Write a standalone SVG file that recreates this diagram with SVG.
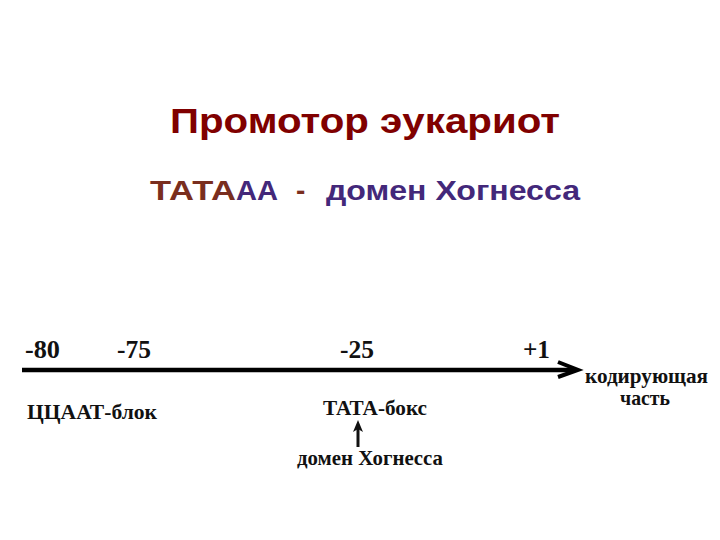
<svg xmlns="http://www.w3.org/2000/svg" width="720" height="540" viewBox="0 0 720 540">
<style>
.title{font-family:"Liberation Sans",Arial,sans-serif;font-weight:bold;font-size:35px;fill:#800000}
.sub{font-family:"Liberation Sans",Arial,sans-serif;font-weight:bold;font-size:28px}
.br{fill:#7a2e1e}
.pu{fill:#43287a}
.lbl{font-family:"Liberation Serif","Times New Roman",serif;font-weight:bold;fill:#111}
.num{font-size:26px}
.small{font-size:21px}
</style>
<rect width="720" height="540" fill="#fff"/>
<g id="title">
<text class="title" x="170" y="133" textLength="390" lengthAdjust="spacingAndGlyphs">Промотор эукариот</text>
</g>
<g id="subtitle">
<text class="sub" y="200"><tspan class="br" x="150" textLength="86" lengthAdjust="spacingAndGlyphs">ТАТА</tspan><tspan class="pu" x="236" textLength="42" lengthAdjust="spacingAndGlyphs">АА</tspan><tspan class="br" x="296">-</tspan><tspan class="pu" x="326" textLength="254" lengthAdjust="spacingAndGlyphs">домен Хогнесса</tspan></text>
</g>
<g id="connectors">
<line x1="22" y1="370" x2="574" y2="370" stroke="#000" stroke-width="4.5"/>
<polyline points="558,362 578,370 558,377" fill="none" stroke="#000" stroke-width="4" stroke-linejoin="miter"/>
<line x1="358" y1="447" x2="358" y2="428" stroke="#111" stroke-width="3"/>
<polygon points="358,420 363,432 358,429 353,432" fill="#111"/>
</g>
<g id="n80"><text class="lbl num" x="25" y="358" textLength="35" lengthAdjust="spacingAndGlyphs">-80</text></g>
<g id="n75"><text class="lbl num" x="117" y="358" textLength="34" lengthAdjust="spacingAndGlyphs">-75</text></g>
<g id="n25"><text class="lbl num" x="340" y="358" textLength="34" lengthAdjust="spacingAndGlyphs">-25</text></g>
<g id="p1"><text class="lbl num" x="523" y="358" textLength="27" lengthAdjust="spacingAndGlyphs">+1</text></g>
<g id="ccaat"><text class="lbl small" x="27" y="419" textLength="130" lengthAdjust="spacingAndGlyphs">ЦЦААТ-блок</text></g>
<g id="tata"><text class="lbl small" x="323" y="415" textLength="104" lengthAdjust="spacingAndGlyphs">ТАТА-бокс</text></g>
<g id="hogness"><text class="lbl small" x="297" y="465" textLength="146" lengthAdjust="spacingAndGlyphs">домен Хогнесса</text></g>
<g id="coding">
<text class="lbl small" x="585" y="383" textLength="123" lengthAdjust="spacingAndGlyphs">кодирующая</text>
<text class="lbl small" x="620" y="405" textLength="50" lengthAdjust="spacingAndGlyphs">часть</text>
</g>
</svg>
